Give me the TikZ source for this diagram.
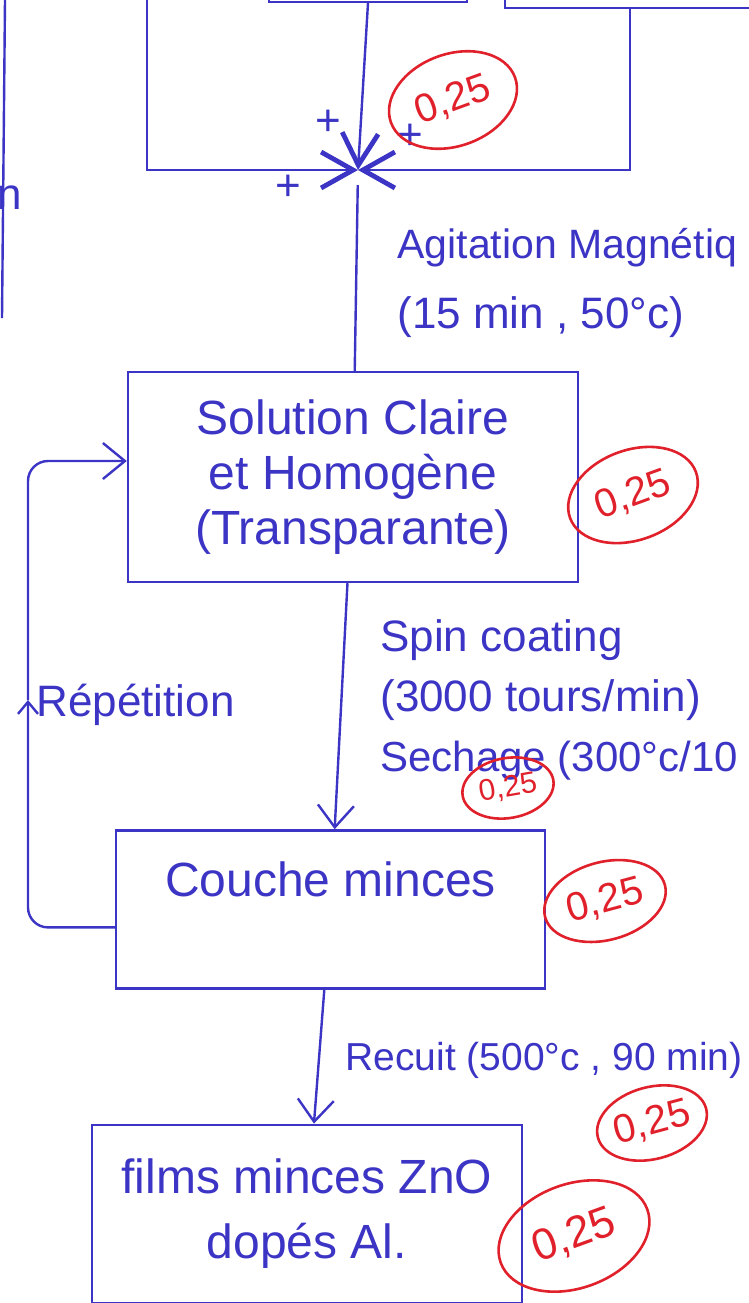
\documentclass[tikz,border=0pt]{standalone}
\usepackage{fontspec}
\setmainfont{Liberation Sans}
\usetikzlibrary{arrows.meta,positioning,shapes.geometric}
\definecolor{bluepen}{HTML}{3B34C4}
\definecolor{redpen}{HTML}{E0202A}

\begin{document}
\begin{tikzpicture}[x=0.5pt,y=-0.5pt,
  wire/.style={draw=bluepen,line width=1.2pt},
  flow/.style={wire,-{Straight Barb[length=11pt,width=18pt]}},
  feed/.style={wire,-{Straight Barb[length=16pt,width=18pt,line width=2.4pt]}},
  box/.style={draw=bluepen,line width=1.2pt,text=bluepen,font=\fontsize{24}{27.5}\selectfont,align=center,inner sep=0pt},
  src/.style={draw=bluepen,line width=1.2pt,minimum height=60pt},
  lbl/.style={text=bluepen,font=\fontsize{22}{30}\selectfont,align=left,inner sep=0pt},
  note/.style={ellipse,draw=redpen,line width=1.3pt,text=redpen,font=\fontsize{20}{24}\selectfont,inner sep=0pt}]
\useasboundingbox (0,0) rectangle (749,1303);
\clip (0,0) rectangle (749,1303);
% sources (above the sheet)
\node[src,minimum width=100pt,anchor=south] (srcL) at (147,-6) {};
\node[src,minimum width=99pt,anchor=south] (srcC) at (368,3) {};
\node[src,minimum width=125pt,anchor=south] (srcR) at (630,9) {};
\coordinate (mix) at (358,170);
\draw[feed] (srcL.south) |- (mix);
\draw[feed] (srcC.south) -- (mix);
\draw[feed] (srcR.south) |- (mix);
\node[text=bluepen,font=\fontsize{22}{24}\selectfont,inner sep=0pt] (p1) at (328,123) {+};
\node[text=bluepen,font=\fontsize{22}{24}\selectfont,inner sep=0pt] (p2) at (410,137) {+};
\node[text=bluepen,font=\fontsize{22}{24}\selectfont,inner sep=0pt] (p3) at (288,188) {+};
\draw[wire] (5,0) -- (2,318);
\node[lbl] (frag) at (10,198) {n};
% main chain
\node[box,minimum width=225pt,minimum height=105pt] (sol) at (353,477) {Solution Claire\\et Homogène\\(Transparante)};
\node[box,minimum width=214.5pt,minimum height=79pt,text depth=30pt,below=123pt of sol,xshift=-11.25pt] (couche) {Couche minces};
\node[box,minimum width=215pt,minimum height=89pt,below=67pt of couche,xshift=-11.75pt] (films) {films minces ZnO\\[5pt]dopés Al.};
\draw[wire,shorten <=7.5pt] (mix) -- (sol);
\draw[flow] (sol) -- (couche);
\draw[flow] (couche) -- (films);
% repetition loop
\coordinate (rep) at (28,700);
\draw[wire,-{Straight Barb[length=6pt,width=10pt]},rounded corners=10pt] ([yshift=-9pt]couche.west) -| (rep);
\draw[flow,rounded corners=10pt] (rep) |- ([yshift=8pt]sol.west);
\node[lbl,anchor=west] (rlab) at (36,705) {Répétition};
% step labels
\node[lbl,anchor=west] (agit) at (397,283) {{\fontsize{20.5}{30}\selectfont Agitation Magnétiq}\\[5pt](15 min , 50°c)};
\node[lbl,anchor=west] (spin) at (380,700) {Spin coating\\(3000 tours/min)\\{\fontsize{21}{30}\selectfont Sechage (300°c/10}};
\node[lbl,anchor=west,font=\fontsize{19.5}{24}\selectfont] (recuit) at (345,1060) {Recuit (500°c , 90 min)};
% marks
\node[note,minimum width=66pt,minimum height=46pt,rotate=20] (mk1) at (453,100) {0,25};
\node[note,minimum width=67pt,minimum height=45pt,rotate=20] (mk2) at (633,495) {0,25};
\node[note,minimum width=46pt,minimum height=30pt,rotate=10,font=\fontsize{15}{18}\selectfont] (mk3) at (508,788) {0,25};
\node[note,minimum width=62pt,minimum height=39pt,rotate=15] (mk4) at (605,901) {0,25};
\node[note,minimum width=56pt,minimum height=36pt,rotate=15] (mk5) at (652,1123) {0,25};
\node[note,minimum width=78pt,minimum height=52pt,rotate=20,font=\fontsize{22}{26}\selectfont] (mk6) at (574,1236) {0,25};
\end{tikzpicture}
\end{document}
